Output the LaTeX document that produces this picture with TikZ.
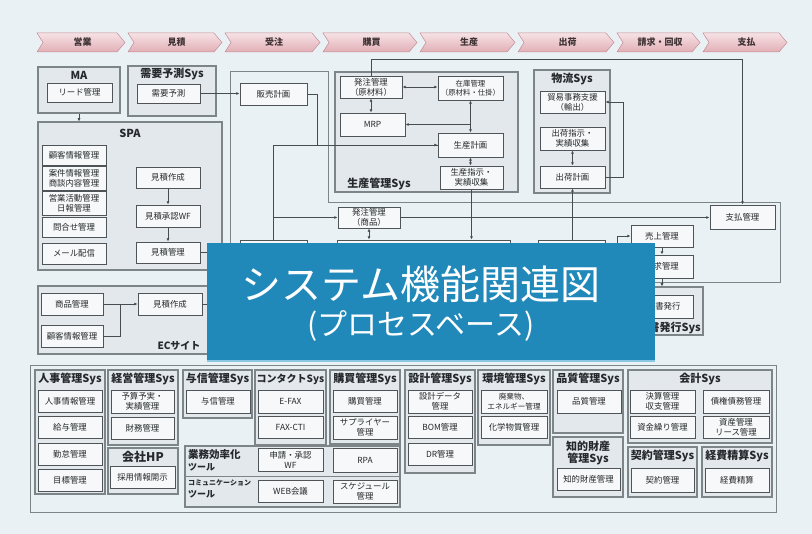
\documentclass[tikz,border=0pt]{standalone}
\usepackage{fontspec}
\setmainfont{Noto Sans CJK JP}
\usetikzlibrary{arrows.meta,calc}
\definecolor{bg}{HTML}{EAF1F5}
\definecolor{grpfill}{HTML}{E2E8EB}
\definecolor{grpdraw}{HTML}{7E8589}
\definecolor{ndfill}{HTML}{F6F8F9}
\definecolor{nddraw}{HTML}{4E5457}
\definecolor{txt}{HTML}{25292B}
\definecolor{lnc}{HTML}{474C4F}
\definecolor{ovl}{HTML}{2189BA}
\definecolor{ovledge}{HTML}{8CC7E2}
\definecolor{pkt}{HTML}{F6E2E5}
\definecolor{pkb}{HTML}{E2AFB6}
\definecolor{pkd}{HTML}{C38C95}
\definecolor{pktx}{HTML}{3F3235}
\tikzset{
  nd/.style={draw=nddraw, fill=ndfill, line width=.9pt, inner sep=0pt, align=center,
    text=txt, font=\fontsize{8.4}{10}\selectfont},
  grp/.style={draw=grpdraw, fill=grpfill, line width=1.1pt, inner sep=0pt},
  gt/.style={text=txt, font=\bfseries\fontsize{11}{12}\selectfont, inner sep=0pt, align=center},
  frm/.style={draw=grpdraw, line width=1pt},
  ln/.style={draw=lnc, line width=.75pt},
  arr/.style={ln, -{Latex[length=3.2pt,width=3pt]}},
  darr/.style={ln, {Latex[length=3.2pt,width=3pt]}-{Latex[length=3.2pt,width=3pt]}},
  chev/.style={top color=pkt, bottom color=pkb, draw=pkd, line width=.5pt},
  cht/.style={text=pktx, font=\bfseries\fontsize{9}{10}\selectfont, inner sep=0pt},
  ovltxt/.style={text=white, inner sep=0pt},
}
% box from (x0,y0) to (x1,y1)
\newcommand\bx[7][]{\node[nd,minimum width={#4pt-#2pt},minimum height={#5pt-#3pt},#1] (#6) at ({(#2+#4)/2},{(#3+#5)/2}) {#7};}
\newcommand\gp[6][]{\node[grp,minimum width={#4pt-#2pt},minimum height={#5pt-#3pt},#1] (#6) at ({(#2+#4)/2},{(#3+#5)/2}) {};}
\begin{document}
\begin{tikzpicture}[x=1pt,y=-1pt]
\useasboundingbox (0,0) rectangle (812,534);
\fill[bg] (0,0) rectangle (812,534);

% ---------- process chevrons ----------
\foreach \a/\b/\t in {37/128/営業,128/225/見積,225/323/受注,323/420/購買,420/518/生産,518/617/出荷,617/703/請求・回収,703/790/支払}{
  \path[chev] (\a,33) -- ({\b-11},33) -- ({\b-3},42.5) -- ({\b-11},52) -- (\a,52) -- ({\a+6},42.5) -- cycle;
  \node[cht] at ({(\a+\b)/2},42.5) {\t};
}

% ---------- big sales frame ----------
\draw[frm] (230,72) -- (328,72) -- (328,203) -- (780,203) -- (780,283) -- (230,283) -- cycle;

% ---------- MA ----------
\gp{38}{67}{120}{113}{ma}
\node[gt] at (79,75) {MA};
\bx{47}{83}{112}{102}{ma1}{リード管理}

% ---------- demand forecast ----------
\gp{128}{66}{216}{116}{jy}
\node[gt] at (172,74) {需要予測Sys};
\bx{137}{84}{200}{103}{jy1}{需要予測}

% ---------- SPA ----------
\gp{38}{122}{222}{270}{spa}
\node[gt] at (130,133) {SPA};
\bx{42}{145}{106}{165}{s1}{顧客情報管理}
\bx{42}{166}{106}{190}{s2}{案件情報管理\\商談内容管理}
\bx{42}{191}{106}{215}{s3}{営業活動管理\\日報管理}
\bx{42}{217}{106}{237}{s4}{問合せ管理}
\bx{42}{243}{106}{264}{s5}{メール配信}
\bx{136}{167}{200}{188}{s6}{見積作成}
\bx{136}{205}{200}{227}{s7}{見積承認WF}
\bx{136}{242}{200}{263}{s8}{見積管理}

% ---------- EC site ----------
\gp{38}{286}{225}{354}{ec}
\node[gt,font=\bfseries\fontsize{10}{11}\selectfont] at (179,346) {ECサイト};
\bx{41}{293}{103}{315}{e1}{商品管理}
\bx{41}{325}{103}{347}{e2}{顧客情報管理}
\bx{138}{293}{202}{315}{e3}{見積作成}

% ---------- sales plan ----------
\bx{240}{83}{307}{105}{hs}{販売計画}

% ---------- production ----------
\gp{335}{72}{518}{192}{psys}
\node[gt] at (379,184) {生産管理Sys};
\bx{340}{76}{402}{98}{p1}{発注管理\\（原材料）}
\bx[font=\fontsize{7.4}{9.4}\selectfont]{438}{76}{503}{100}{p2}{在庫管理\\（原材料・仕掛）}
\bx{340}{113}{405}{136}{p3}{MRP}
\bx{438}{133}{503}{157}{p4}{生産計画}
\bx{440}{166}{503}{189}{p5}{生産指示・\\実績収集}
\bx{338}{207}{400}{228}{ho}{発注管理\\（商品）}

% ---------- logistics ----------
\gp{534}{70}{610}{193}{lsys}
\node[gt] at (572,79) {物流Sys};
\bx{540}{91}{605}{113}{b1}{貿易事務支援\\（輸出）}
\bx{540}{127}{605}{150}{b2}{出荷指示・\\実績収集}
\bx{540}{166}{605}{188}{b3}{出荷計画}

% ---------- right side ----------
\bx{710}{205}{775}{229}{r1}{支払管理}
\bx{631}{225}{693}{247}{r2}{売上管理}
\bx{631}{255}{693}{278}{r3}{請求管理}
\gp{612}{287}{703}{335}{inv}
\node[gt,anchor=east] at (701,328) {請求書発行Sys};
\bx{626}{295}{693}{318}{r4}{請求書発行}

% ---------- boxes hidden by the title panel ----------
\bx{240}{240}{307}{275}{hb1}{}
\bx{337}{240}{510}{275}{hb2}{}
\bx{538}{240}{605}{275}{hb3}{}

% ---------- connectors (upper part) ----------
\draw[arr] (ma.south) -- (ma.south |- spa.north);
\draw[arr] (jy1.east) -- (jy1.east -| hs.west);
\draw[arr] (s6) -- (s7);
\draw[arr] (s7) -- (s8);
\draw[ln] (s8.east) -- ++(15,0);
\draw[arr] (e1) -- (e3);
\draw[ln] (e2.east) -| ($(e1.east)!.5!(e3.west)$);
\draw[ln] (e3.east) -- ++(15,0);
\draw[ln] (hs.east) -- ++(10,0) |- (p4.west);
\draw[arr] (hb1.north) |- (p4.west);
\draw[arr] (hb1.north |- ho.west) -- (ho.west);
\draw[darr] (p1.east) -- (p1.east -| p2.west);
\draw[darr] (p1.south) -- (p1.south |- p3.north);
\draw[darr] (p2) -- (p4);
\draw[arr] (p2.south |- p3.east) -- (p3.east);
\draw[darr] (p4.south) -- (p4.south |- p5.north);
\draw[arr] (p5.south) -- (p5.south |- hb2.north);
\draw[darr] (ho.south) -- (ho.south |- hb2.north);
\draw[arr] (ho.east) -- (ho.east -| r1.west);
\draw[arr] (p1.north) -- ++(0,-16) -| (r1.north);
\draw[darr] (b2) -- (b3);
\draw[arr] (b3.south |- hb3.north) -- (b3.south);
\draw[arr] (b3.east) -- ++(18,0) |- (b1.east);
\coordinate (c1) at (617,255);
\draw[arr] (c1) |- (r2.west);
\draw[arr] (r2) -- (r3);
\draw[arr] (r3.south) -- (r3.south |- inv.north);

% ---------- lower panel ----------
\draw[grpdraw, line width=.8pt] (30,365) rectangle (776,512);

\gp{35}{370}{105}{494}{g1}
\node[gt] at (70,379) {人事管理Sys};
\bx{38}{390}{102}{412}{g1a}{人事情報管理}
\bx{38}{416}{102}{438}{g1b}{給与管理}
\bx{38}{443}{102}{465}{g1c}{勤怠管理}
\bx{38}{469}{102}{491}{g1d}{目標管理}

\gp{108}{370}{178}{445}{g2}
\node[gt] at (143,379) {経営管理Sys};
\bx{111}{390}{174}{413}{g2a}{予算予実・\\実績管理}
\bx{111}{417}{174}{439}{g2b}{財務管理}

\gp{108}{448}{178}{494}{g3}
\node[gt,font=\bfseries\fontsize{12}{13}\selectfont] at (143,457) {会社HP};
\bx{110}{466}{175}{488}{g3a}{採用情報開示}

\gp{183}{370}{252}{418}{g4}
\node[gt] at (217.5,379) {与信管理Sys};
\bx{186}{390}{250}{413}{g4a}{与信管理}

\gp{255}{370}{326}{445}{g5}
\node[gt,font=\bfseries\fontsize{10}{11}\selectfont] at (290.5,379) {コンタクトSys};
\bx{258}{390}{323}{413}{g5a}{E-FAX}
\bx{258}{416}{323}{438}{g5b}{FAX-CTI}

\gp{330}{370}{400}{444}{g6}
\node[gt] at (365,379) {購買管理Sys};
\bx{333}{390}{397}{412}{g6a}{購買管理}
\bx{333}{416}{397}{439}{g6b}{サプライヤー\\管理}

\gp{185}{446}{400}{507}{g7}
\draw[grpdraw, line width=.8pt] (185,476) -- (400,476);
\node[gt,anchor=north west,align=left,font=\bfseries\fontsize{10.5}{12.5}\selectfont] at (188,449) {業務効率化\\{\fontsize{9}{10}\selectfont ツール}};
\node[gt,anchor=north west,align=left,font=\bfseries\fontsize{7}{12}\selectfont] at (188,480) {コミュニケーション\\{\fontsize{9}{10}\selectfont ツール}};
\bx{258}{448}{323}{471}{g7a}{申請・承認\\WF}
\bx{333}{448}{397}{472}{g7b}{RPA}
\bx{258}{480}{323}{502}{g7c}{WEB会議}
\bx{333}{480}{397}{503}{g7d}{スケジュール\\管理}

\gp{405}{370}{475}{473}{g8}
\node[gt] at (440,379) {設計管理Sys};
\bx{408}{390}{472}{413}{g8a}{設計データ\\管理}
\bx{408}{416}{472}{438}{g8b}{BOM管理}
\bx{408}{443}{472}{465}{g8c}{DR管理}

\gp{478}{370}{550}{445}{g9}
\node[gt] at (514,379) {環境管理Sys};
\bx[font=\fontsize{7.6}{9.6}\selectfont]{481}{390}{547}{413}{g9a}{廃棄物、\\エネルギー管理}
\bx{481}{416}{547}{438}{g9b}{化学物質管理}

\gp{553}{370}{623}{433}{g10}
\node[gt] at (588,379) {品質管理Sys};
\bx{557}{390}{621}{413}{g10a}{品質管理}

\gp{553}{437}{623}{497}{g11}
\node[gt] at (588,453) {知的財産\\管理Sys};
\bx{557}{468}{620}{490}{g11a}{知的財産管理}

\gp{628}{370}{772}{443}{g12}
\node[gt] at (700,379) {会計Sys};
\bx{630}{390}{695}{413}{g12a}{決算管理\\収支管理}
\bx{703}{390}{769}{413}{g12b}{債権債務管理}
\bx{630}{416}{695}{438}{g12c}{資金繰り管理}
\bx{703}{416}{769}{438}{g12d}{資産管理\\リース管理}

\gp{628}{447}{697}{497}{g13}
\node[gt] at (662.5,456) {契約管理Sys};
\bx{631}{468}{694}{492}{g13a}{契約管理}

\gp{702}{447}{772}{497}{g14}
\node[gt] at (737,456) {経費精算Sys};
\bx{705}{468}{769}{492}{g14a}{経費精算}

% ---------- title panel ----------
\fill[ovl] (207,243) rectangle (655,362);
\draw[ovledge, line width=1.5pt] (207,361) -- (655,361);
\node[ovltxt,font=\fontsize{40}{42}\selectfont] (ttl1) at (421,284) {システム機能関連図};
\node[ovltxt,font=\fontsize{30}{32}\selectfont] (ttl2) at (421,326) {(プロセスベース)};
\end{tikzpicture}
\end{document}
